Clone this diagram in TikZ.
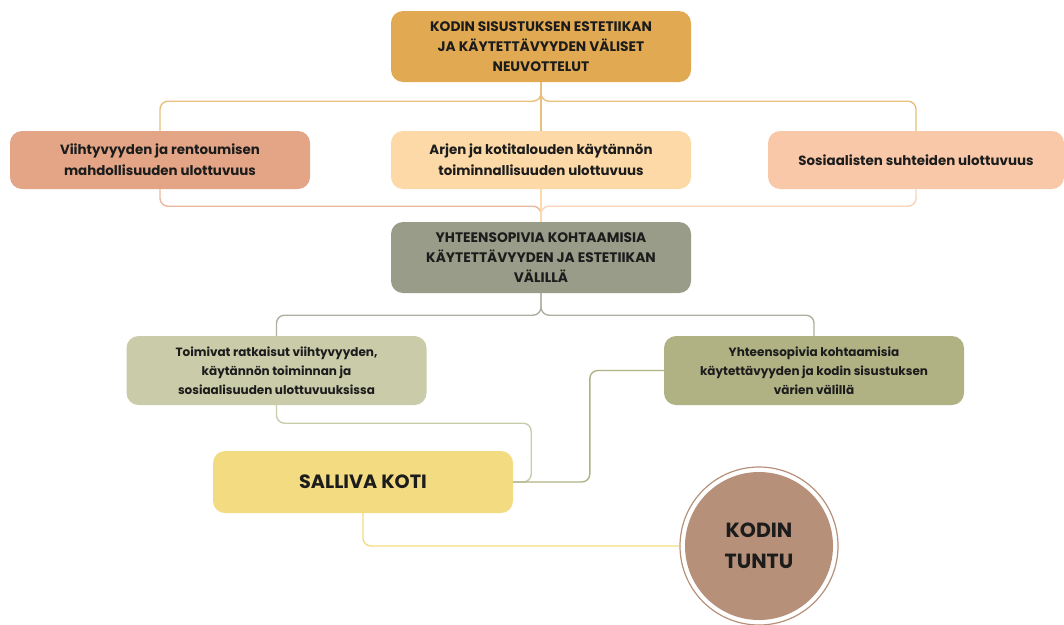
\documentclass[tikz,border=0pt]{standalone}
\usepackage{fontspec}
\setmainfont{Poppins}
\usetikzlibrary{calc}
\definecolor{kulta}{HTML}{E1AA52}
\definecolor{lohi}{HTML}{E3A585}
\definecolor{persikka}{HTML}{FDD9A8}
\definecolor{roosa}{HTML}{F8C8A9}
\definecolor{harmaa}{HTML}{999C88}
\definecolor{vaaleaoliivi}{HTML}{C9CBA9}
\definecolor{oliivi}{HTML}{B0B284}
\definecolor{keltainen}{HTML}{F3DB82}
\definecolor{ruskea}{HTML}{B69079}
\definecolor{teksti}{HTML}{1C1C1C}

\begin{document}
\begin{tikzpicture}[x=1pt,y=-1pt,
  laatikko/.style={rounded corners=12pt,inner sep=0pt,minimum width=300pt,align=center,text=teksti,font=\bfseries\fontsize{13.4}{21}\selectfont},
  pieni/.style={font=\bfseries\fontsize{12}{19}\selectfont},
  otsikko/.style={font=\bfseries\fontsize{13.8}{20}\selectfont},
  viiva/.style={line width=1.4pt,rounded corners=8pt}]
  \useasboundingbox (0,0) rectangle (1064,624);

  \node (ylin) [laatikko,otsikko,fill=kulta,minimum height=71pt] at (541,46.5)
    {KODIN SISUSTUKSEN ESTETIIKAN\\JA KÄYTETTÄVYYDEN VÄLISET\\NEUVOTTELUT};
  \node (viiht) [laatikko,fill=lohi,minimum height=58pt] at (160,160)
    {Viihtyvyyden ja rentoumisen\\mahdollisuuden ulottuvuus};
  \node (arki) [laatikko,fill=persikka,minimum height=58pt] at (541,160)
    {Arjen ja kotitalouden käytännön\\toiminnallisuuden ulottuvuus};
  \node (sos) [laatikko,fill=roosa,minimum height=58pt,minimum width=296pt] at (916,160)
    {Sosiaalisten suhteiden ulottuvuus};
  \node (yht) [laatikko,otsikko,fill=harmaa,minimum height=71pt] at (541,257.5)
    {YHTEENSOPIVIA KOHTAAMISIA\\KÄYTETTÄVYYDEN JA ESTETIIKAN\\VÄLILLÄ};
  \node (toim) [laatikko,pieni,fill=vaaleaoliivi,minimum height=69pt] at (276.5,370.5)
    {Toimivat ratkaisut viihtyvyyden,\\käytännön toiminnan ja\\sosiaalisuuden ulottuvuuksissa};
  \node (vari) [laatikko,pieni,fill=oliivi,minimum height=69pt] at (814,370.5)
    {Yhteensopivia kohtaamisia\\käytettävyyden ja kodin sisustuksen\\värien välillä};
  \node (salliva) [laatikko,fill=keltainen,minimum height=62pt,font=\bfseries\fontsize{19.2}{22}\selectfont] at (363,482)
    {SALLIVA KOTI};
  \node (tuntu) [circle,inner sep=0pt,minimum size=158pt,draw=ruskea,line width=1.2pt,align=center,text=teksti,
    font=\bfseries\fontsize{20.5}{31}\selectfont,
    path picture={\fill[ruskea] (path picture bounding box.center) circle (74pt);}] at (759,546)
    {KODIN\\TUNTU};

  \draw[viiva,draw=kulta!75] (ylin.south) -- ++(0,19) -| (viiht.north);
  \draw[viiva,draw=kulta!75] (ylin.south) -- ++(0,19) -| (sos.north);
  \draw[viiva,draw=kulta!75] (ylin.south) -- (arki.north);

  \draw[viiva,draw=lohi!80] (viiht.south) -- ++(0,17) -| (yht.north);
  \draw[viiva,draw=roosa!80] (sos.south) -- ++(0,17) -| (yht.north);
  \draw[viiva,draw=persikka] (arki.south) -- (yht.north);

  \draw[viiva,draw=harmaa!80] (yht.south) -- ++(0,22) -| (toim.north);
  \draw[viiva,draw=harmaa!80] (yht.south) -- ++(0,22) -| (vari.north);

  \draw[viiva,draw=vaaleaoliivi] (toim.south) -- ++(0,18) -| ([xshift=18pt]salliva.east) -- (salliva.east);
  \draw[viiva,draw=oliivi] (vari.west) -- ++(-74,0) |- (salliva.east);

  \draw[viiva,draw=keltainen] (salliva.south) |- (tuntu.west);
\end{tikzpicture}
\end{document}
